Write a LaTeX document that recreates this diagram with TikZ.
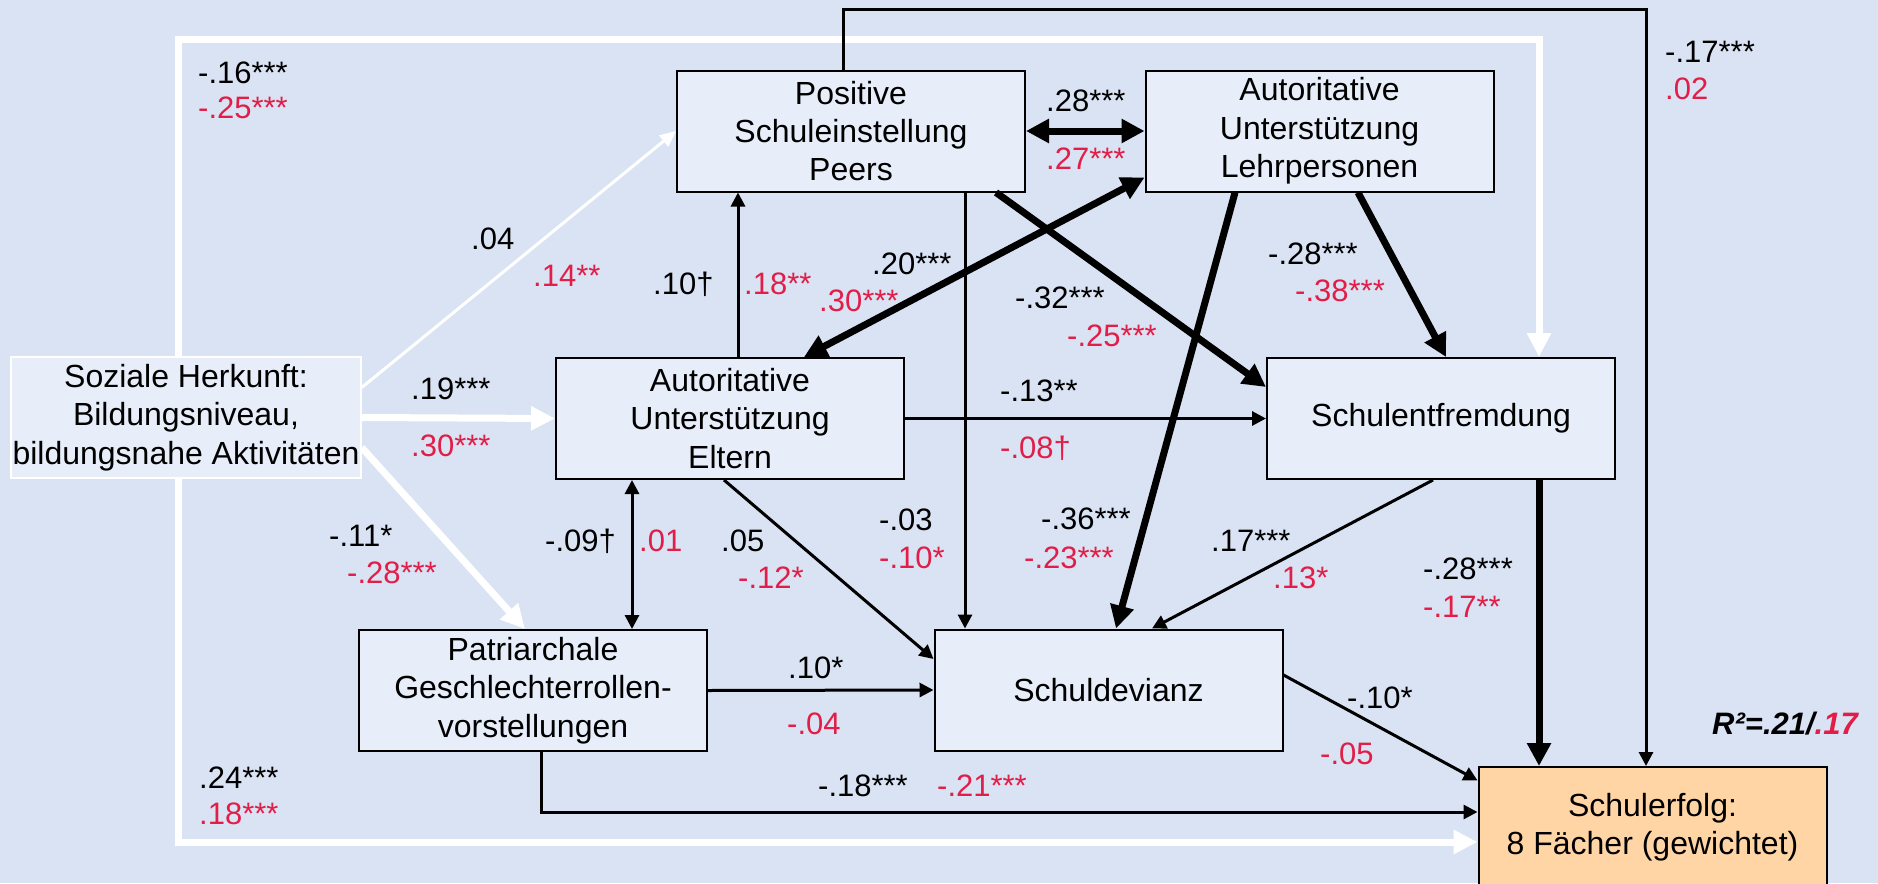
\documentclass[tikz,border=0pt]{standalone}
\usepackage{fontspec}
\setmainfont{Liberation Sans}
\usepackage{tikz}
\usetikzlibrary{arrows.meta}
\definecolor{hgblau}{RGB}{218,227,243}
\definecolor{boxblau}{RGB}{231,238,249}
\definecolor{rot}{RGB}{226,30,72}
\definecolor{pfirsich}{RGB}{255,213,166}

\begin{document}
\begin{tikzpicture}[x=1pt, y=-1pt,
		box/.style={draw, line width=2pt, fill=boxblau, minimum width=348pt, minimum height=121pt, inner sep=0pt, align=center, font=\fontsize{32}{38.3}\selectfont},
		lab/.style={anchor=west, inner sep=0pt, text height=22pt, text depth=0pt, font=\fontsize{31}{31}\selectfont},
		labr/.style={lab, text=rot},
		duenn/.style={line width=3pt, -{Triangle[length=14pt, width=14pt]}},
		duenn2/.style={line width=3pt, {Triangle[length=14pt, width=14pt]}-{Triangle[length=14pt, width=14pt]}},
		dick/.style={line width=7pt, -{Triangle[length=23pt, width=23pt]}},
		dick2/.style={line width=7pt, {Triangle[length=23pt, width=23pt]}-{Triangle[length=23pt, width=23pt]}},
		weiss/.style={white, line width=7pt, -{Triangle[length=24pt, width=23pt]}},
		weissduenn/.style={white, line width=3pt, -{Triangle[length=16pt, width=14pt]}}]
	\useasboundingbox (0,0) rectangle (1878,883);
	\fill[hgblau] (0,0) rectangle (1878,883);

	% Kästen
	\node[box, draw=white, line width=1.5pt, minimum width=350pt] (herkunft) at (186,417.5) {Soziale Herkunft:\\Bildungsniveau,\\bildungsnahe Aktivitäten};
	\node[box] (peers) at (851,131) {Positive\\Schuleinstellung\\Peers};
	\node[box] (lehrer) at (1319.5,131) {Autoritative\\Unterstützung\\Lehrpersonen};
	\node[box] (eltern) at (730,418.5) {Autoritative\\Unterstützung\\Eltern};
	\node[box] (fremd) at (1441,418.5) {Schulentfremdung};
	\node[box] (patri) at (533,690.5) {Patriarchale\\Geschlechterrollen-\\vorstellungen};
	\node[box] (devianz) at (1108.5,690) {Schuldevianz};
	\node[box, fill=pfirsich] (erfolg) at (1652.5,827.5) {Schulerfolg:\\8 Fächer (gewichtet)};

	\coordinate (ecke-w) at (1539,40);
	\coordinate (ecke-s) at (1646,10);

	% weisse Pfade
	\draw[weiss] ([xshift=-8pt]herkunft.north) |- (ecke-w) -- ([xshift=98pt]fremd.north);
	\draw[weiss] ([xshift=-8pt]herkunft.south) |- ([yshift=-14.5pt]erfolg.west);
	\draw[weiss] (herkunft.east) -- (eltern.west);
	\draw[weiss] ([yshift=-30pt]herkunft.east) -- ([xshift=-8pt]patri.north);
	\draw[weissduenn] ([yshift=30pt]herkunft.east) -- (peers.west);

	% schwarze Pfade
	\draw[duenn] ([xshift=-8pt]peers.north) |- (ecke-s) -- ([xshift=-6.5pt]erfolg.north);
	\draw[dick2] (peers.east) -- (lehrer.west);
	\draw[dick2] ([yshift=15pt]lehrer.south west) -- ([xshift=74pt]eltern.north);
	\draw[duenn] ([xshift=8pt]eltern.north) -- ([xshift=-113pt]peers.south);
	\draw[duenn] ([xshift=114pt]peers.south) -- ([xshift=-143.5pt]devianz.north);
	\draw[dick] ([xshift=145pt]peers.south) -- ([yshift=31.5pt]fremd.west);
	\draw[dick] ([xshift=-84.5pt]lehrer.south) -- ([xshift=7.5pt]devianz.north);
	\draw[dick] ([xshift=38.5pt]lehrer.south) -- ([xshift=5pt]fremd.north);
	\draw[duenn] (eltern.east) -- (fremd.west);
	\draw[duenn2] ([xshift=-98pt]eltern.south) -- ([xshift=99pt]patri.north);
	\draw[duenn] ([xshift=-6pt]eltern.south) -- ([yshift=31pt]devianz.west);
	\draw[duenn] ([xshift=-8pt]fremd.south) -- ([xshift=43.5pt]devianz.north);
	\draw[duenn] (patri.east) -- (devianz.west);
	\draw[duenn] ([xshift=8pt]patri.south) |- ([yshift=15.5pt]erfolg.west);
	\draw[duenn] ([yshift=15pt]devianz.east) -- ([yshift=47pt]erfolg.west);
	\draw[dick] ([xshift=98pt]fremd.south) -- ([xshift=-113.5pt]erfolg.north);

	% Koeffizienten
	\node[lab] (k1) at (198,72) {-.16***};
	\node[labr] (k1r) at (198,107) {-.25***};
	\node[lab] (k2) at (471,238) {.04};
	\node[labr] (k2r) at (533,275) {.14**};
	\node[lab] (k3) at (411,388) {.19***};
	\node[labr] (k3r) at (411,445) {.30***};
	\node[lab] (k4) at (329,535) {-.11*};
	\node[labr] (k4r) at (347,572) {-.28***};
	\node[lab] (k5) at (545,540) {-.09†};
	\node[labr] (k5r) at (639,540) {.01};
	\node[lab] (k6) at (199,777) {.24***};
	\node[labr] (k6r) at (199,813) {.18***};
	\node[lab] (k7) at (653,283) {.10†};
	\node[labr] (k7r) at (744,283) {.18**};
	\node[lab] (k8) at (872,263) {.20***};
	\node[labr] (k8r) at (819,300) {.30***};
	\node[lab] (k9) at (1046,100) {.28***};
	\node[labr] (k9r) at (1046,158) {.27***};
	\node[lab] (k10) at (1015,297) {-.32***};
	\node[labr] (k10r) at (1067,335) {-.25***};
	\node[lab] (k11) at (1000,390) {-.13**};
	\node[labr] (k11r) at (1000,447) {-.08†};
	\node[lab] (k12) at (1268,253) {-.28***};
	\node[labr] (k12r) at (1295,290) {-.38***};
	\node[lab] (k13) at (1665,52) {-.17***};
	\node[labr] (k13r) at (1665,88) {.02};
	\node[lab] (k14) at (721,540) {.05};
	\node[labr] (k14r) at (738,577) {-.12*};
	\node[lab] (k15) at (879,519) {-.03};
	\node[labr] (k15r) at (879,557) {-.10*};
	\node[lab] (k16) at (1041,518) {-.36***};
	\node[labr] (k16r) at (1024,557) {-.23***};
	\node[lab] (k17) at (1211,540) {.17***};
	\node[labr] (k17r) at (1273,577) {.13*};
	\node[lab] (k18) at (788,667) {.10*};
	\node[labr] (k18r) at (787,723) {-.04};
	\node[lab] (k19) at (818,785) {-.18***};
	\node[labr] (k19r) at (937,785) {-.21***};
	\node[lab] (k20) at (1423,568) {-.28***};
	\node[labr] (k20r) at (1423,606) {-.17**};
	\node[lab] (k21) at (1347,697) {-.10*};
	\node[labr] (k21r) at (1320,753) {-.05};
	\node[lab, font=\fontsize{31}{31}\selectfont\bfseries\itshape] (rq) at (1712,723.5) {R²=.21/\textcolor{rot}{.17}};
\end{tikzpicture}
\end{document}
